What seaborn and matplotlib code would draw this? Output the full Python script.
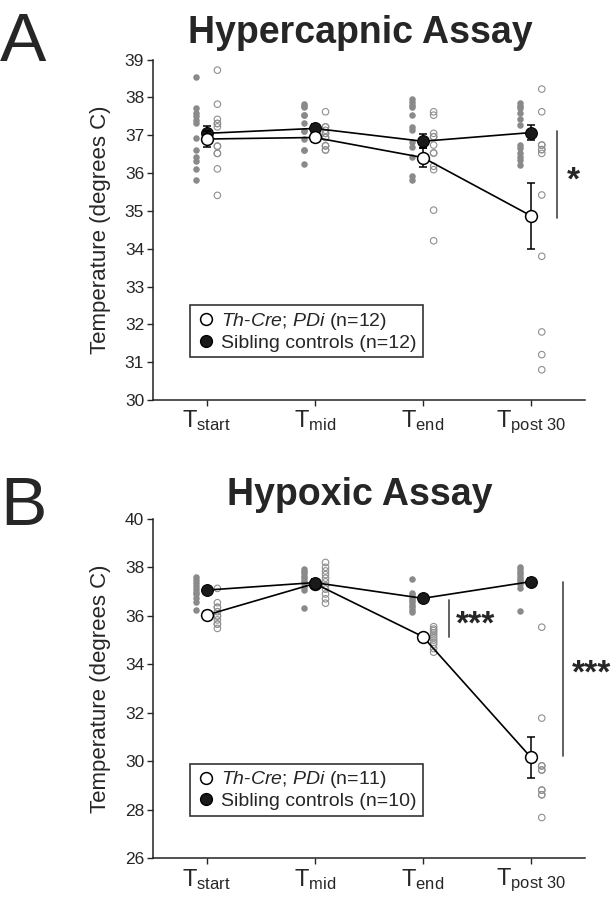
"""
Body temperature during hypercapnic and hypoxic challenge (panels A and B).
"""

import numpy as np
import pandas as pd
import matplotlib
import matplotlib.pyplot as plt
from matplotlib.lines import Line2D
import seaborn as sns

matplotlib.use('Agg')
sns.set_style('ticks')
plt.rcParams['font.family'] = ['Liberation Sans', 'DejaVu Sans']
plt.rcParams['mathtext.fontset'] = 'custom'
plt.rcParams['mathtext.rm'] = 'Liberation Sans'
plt.rcParams['mathtext.it'] = 'Liberation Sans:italic'

TIME_LABELS = [r'$\mathregular{T_{start}}$', r'$\mathregular{T_{mid}}$',
               r'$\mathregular{T_{end}}$', r'$\mathregular{T_{post\ 30}}$']

# ---- Panel A: hypercapnic assay (n=12 per group) ----
A_CTRL_POINTS = [
    [38.53, 37.73, 37.60, 37.51, 37.40, 37.31, 36.92, 36.62, 36.43, 36.32, 36.12, 35.81],
    [37.82, 37.78, 37.75, 37.53, 37.53, 37.33, 37.12, 37.12, 36.91, 36.62, 36.62, 36.23],
    [37.97, 37.88, 37.80, 37.75, 37.53, 37.22, 37.13, 36.83, 36.69, 36.43, 35.92, 35.81],
    [37.84, 37.78, 37.71, 37.58, 37.44, 37.27, 36.74, 36.65, 36.52, 36.43, 36.34, 36.21],
]
A_KO_POINTS = [
    [38.72, 37.82, 37.42, 37.31, 37.31, 37.22, 36.71, 36.71, 36.52, 36.52, 36.11, 35.41],
    [37.62, 37.22, 37.22, 37.13, 37.05, 37.05, 36.94, 36.94, 36.72, 36.72, 36.61, 36.61],
    [37.62, 37.53, 37.05, 36.96, 36.96, 36.74, 36.53, 36.53, 36.18, 36.09, 35.02, 34.21],
    [38.22, 37.62, 36.74, 36.74, 36.62, 36.62, 36.52, 35.42, 33.80, 31.80, 31.20, 30.80],
]
A_CTRL_MEAN = [37.05, 37.18, 36.84, 37.07]
A_CTRL_SEM = [0.20, 0.12, 0.18, 0.19]
A_KO_MEAN = [36.90, 36.94, 36.41, 34.87]
A_KO_SEM = [0.22, 0.12, 0.26, 0.87]

# ---- Panel B: hypoxic assay (n=10 controls, n=11 Th-Cre; PDi) ----
B_CTRL_POINTS = [
    [37.61, 37.48, 37.36, 37.24, 37.12, 37.00, 36.88, 36.74, 36.55, 36.24],
    [37.95, 37.85, 37.75, 37.65, 37.55, 37.45, 37.35, 37.20, 37.06, 36.31],
    [37.50, 36.93, 36.85, 36.75, 36.65, 36.55, 36.45, 36.35, 36.25, 36.17],
    [38.02, 37.92, 37.82, 37.72, 37.62, 37.52, 37.42, 37.30, 37.13, 36.21],
]
B_KO_POINTS = [
    [37.13, 36.54, 36.35, 36.35, 36.17, 35.99, 35.99, 35.83, 35.66, 35.66, 35.48],
    [38.20, 38.00, 37.85, 37.70, 37.55, 37.40, 37.25, 37.10, 36.90, 36.70, 36.52],
    [35.55, 35.45, 35.39, 35.30, 35.21, 35.10, 35.00, 34.90, 34.80, 34.65, 34.50],
    [35.53, 31.78, 29.81, 29.81, 29.64, 29.64, 28.81, 28.81, 28.62, 28.62, 27.68],
]
B_CTRL_MEAN = [37.06, 37.37, 36.72, 37.41]
B_CTRL_SEM = [0.12, 0.14, 0.12, 0.15]
B_KO_MEAN = [36.03, 37.33, 35.14, 30.16]
B_KO_SEM = [0.15, 0.14, 0.10, 0.86]

CTRL_DOT = '#8a8a8a'
KO_DOT = '#8f8f8f'
SIG_GRAY = '#555555'


def long_form(points, offset):
    rows = []
    for t, vals in enumerate(points):
        for v in vals:
            rows.append({'x': t + offset, 'temp': v})
    return pd.DataFrame(rows)


def draw_panel(ax, ctrl_pts, ko_pts, ctrl_mean, ctrl_sem, ko_mean, ko_sem,
               n_ko, n_ctrl, ylim, yticks, ko_on_top):
    pos = np.arange(len(TIME_LABELS))

    # individual animals
    sns.scatterplot(data=long_form(ctrl_pts, -0.1), x='x', y='temp', ax=ax,
                    color=CTRL_DOT, s=22, linewidth=0, zorder=2, legend=False)
    sns.scatterplot(data=long_form(ko_pts, 0.1), x='x', y='temp', ax=ax,
                    facecolor='none', edgecolor=KO_DOT, s=22, linewidth=0.8,
                    zorder=2, legend=False)

    # group means +/- SEM
    z_ko, z_ctrl = (6, 5) if ko_on_top else (5, 6)
    ax.errorbar(pos, ctrl_mean, yerr=ctrl_sem, fmt='none', ecolor='black',
                elinewidth=1.1, capsize=3, capthick=1.1, zorder=z_ctrl - 0.5)
    ax.errorbar(pos, ko_mean, yerr=ko_sem, fmt='none', ecolor='black',
                elinewidth=1.1, capsize=3, capthick=1.1, zorder=z_ko - 0.5)
    sns.lineplot(x=pos, y=ctrl_mean, ax=ax, color='black', lw=1.2,
                 marker='o', markersize=8.5, markerfacecolor='#1a1a1a',
                 markeredgecolor='black', zorder=z_ctrl, sort=False)
    sns.lineplot(x=pos, y=ko_mean, ax=ax, color='black', lw=1.2,
                 marker='o', markersize=8.5, markerfacecolor='white',
                 markeredgecolor='black', markeredgewidth=1.1, zorder=z_ko, sort=False)

    ax.set_xlim(-0.5, 3.5)
    ax.set_ylim(*ylim)
    ax.set_yticks(yticks)
    ax.set_xticks(pos)
    ax.set_xticklabels(TIME_LABELS, fontsize=17)
    ax.tick_params(axis='y', labelsize=12.5, length=4, width=1, pad=2)
    ax.tick_params(axis='x', length=4, width=1, pad=2)
    ax.set_xlabel('')
    ax.set_ylabel('Temperature (degrees C)', fontsize=16, labelpad=10)
    for side in ['left', 'bottom']:
        ax.spines[side].set_linewidth(1.1)
        ax.spines[side].set_color('#222222')
    sns.despine(ax=ax)

    handles = [
        Line2D([], [], ls='none', marker='o', markersize=8.5, markerfacecolor='white',
               markeredgecolor='black', markeredgewidth=1.1),
        Line2D([], [], ls='none', marker='o', markersize=8.5, markerfacecolor='#1a1a1a',
               markeredgecolor='black'),
    ]
    labels = [r'$\mathit{Th}$-$\mathit{Cre}$; $\mathit{PDi}$ (n=%d)' % n_ko,
              'Sibling controls (n=%d)' % n_ctrl]
    leg = ax.legend(handles, labels, loc='lower left', bbox_to_anchor=(0.087, 0.125),
                    fontsize=14, frameon=True, fancybox=False, borderpad=0.3,
                    handletextpad=0.3, handlelength=1.0, labelspacing=0.1,
                    borderaxespad=0)
    leg.get_frame().set_edgecolor('black')
    leg.get_frame().set_linewidth(1.2)


fig = plt.figure(figsize=(6.16, 9.15))
ax_a = fig.add_axes([0.2476, 0.5628, 0.7021, 0.3721])
ax_b = fig.add_axes([0.2476, 0.0620, 0.7021, 0.3710])

draw_panel(ax_a, A_CTRL_POINTS, A_KO_POINTS, A_CTRL_MEAN, A_CTRL_SEM,
           A_KO_MEAN, A_KO_SEM, 12, 12, (30, 39), range(30, 40), True)
draw_panel(ax_b, B_CTRL_POINTS, B_KO_POINTS, B_CTRL_MEAN, B_CTRL_SEM,
           B_KO_MEAN, B_KO_SEM, 11, 10, (26, 40), range(26, 41, 2), False)

# significance markers
ax_a.plot([3.24, 3.24], [37.12, 34.81], color=SIG_GRAY, lw=1.3, clip_on=False)
ax_a.text(3.33, 35.80, '*', fontsize=24, fontweight='bold', va='center', ha='left')
ax_b.plot([2.24, 2.24], [36.65, 35.14], color=SIG_GRAY, lw=1.3, clip_on=False)
ax_b.text(2.31, 35.60, '***', fontsize=24, fontweight='bold', va='center', ha='left')
ax_b.plot([3.30, 3.30], [37.41, 30.22], color=SIG_GRAY, lw=1.3, clip_on=False)
ax_b.text(3.38, 33.58, '***', fontsize=24, fontweight='bold', va='center', ha='left')

# titles and panel letters
fig.text(0.5844, 0.953, 'Hypercapnic Assay', fontsize=27, fontweight='bold',
         ha='center', va='baseline')
fig.text(0.0, 0.933, 'A', fontsize=50, ha='left', va='baseline')
fig.text(0.5844, 0.448, 'Hypoxic Assay', fontsize=27, fontweight='bold',
         ha='center', va='baseline')
fig.text(0.0, 0.426, 'B', fontsize=50, ha='left', va='baseline')

fig.savefig('out.png', dpi=100)
plt.close(fig)
